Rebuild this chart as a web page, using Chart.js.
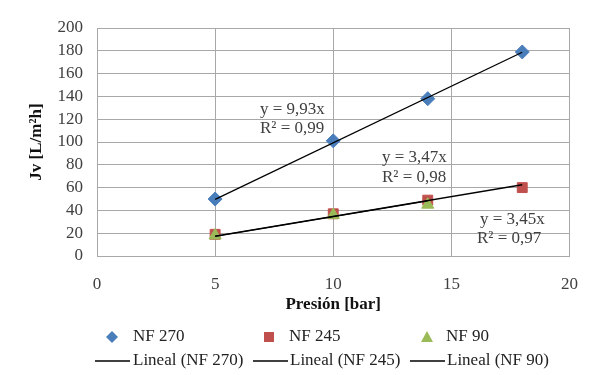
<!DOCTYPE html>
<html>
<head>
<meta charset="utf-8">
<script src="https://cdn.jsdelivr.net/npm/chart.js@4/dist/chart.umd.min.js"></script>
<style>
  html, body { margin: 0; padding: 0; background: #fff; }
  #wrap { width: 596px; height: 375px; }
</style>
</head>
<body>
<div id="wrap"><canvas id="fluxChart" width="596" height="375"></canvas></div>
<script>
// Pressure (bar) for each membrane and measured flux
const presNF270 = [5, 10, 14, 18];
const fluxNF270 = [50, 101, 138, 179];
const presNF245 = [5, 10, 14, 18];
const fluxNF245 = [19, 37, 49, 60];
const presNF90 = [5, 10, 14];
const fluxNF90 = [18, 36, 45];

// Linear trendlines (y = a*x), endpoints
const trendX270 = [5, 18];
const trendY270 = [49.65, 178.7];
const trendX245 = [5, 18];
const trendY245 = [17.35, 62.5];
const trendX90 = [5, 14];
const trendY90 = [17.25, 48.3];

const trendLabels = [
    ['y = 9,93x', 'R² = 0,99'],
    ['y = 3,47x', 'R² = 0,98'],
    ['y = 3,45x', 'R² = 0,97']
];

const toPoints = (xs, ys) => xs.map((x, i) => ({ x: x, y: ys[i] }));

const serif = "'Liberation Serif', 'Times New Roman', serif";
const gridColor = '#a8a8a8';
const textColor = '#404040';

// Draws the equation labels and the two-row legend under the chart
const extrasPlugin = {
    id: 'extras',
    afterDraw(chart) {
        const ctx = chart.ctx;
        ctx.save();
        ctx.font = '17px ' + serif;
        ctx.fillStyle = textColor;
        ctx.textBaseline = 'middle';
        ctx.textAlign = 'left';
        // equation labels
        const spots = [[260, 110, 260, 129], [382, 158, 382, 178], [480, 220, 477, 239]];
        trendLabels.forEach((t, i) => {
            const s = spots[i];
            ctx.fillText(t[0], s[0], s[1]);
            ctx.fillText(t[1], s[2], s[3]);
        });

        // legend
        ctx.fillStyle = '#222';
        const row1 = 337, row2 = 361;
        ctx.fillText('NF 270', 133, row1);
        ctx.fillText('NF 245', 289, row1);
        ctx.fillText('NF 90', 446, row1);
        ctx.fillText('Lineal (NF 270)', 133, row2);
        ctx.fillText('Lineal (NF 245)', 290, row2);
        ctx.fillText('Lineal (NF 90)', 447, row2);

        // diamond
        ctx.fillStyle = '#4a7ebb';
        ctx.beginPath();
        ctx.moveTo(112, row1 - 6);
        ctx.lineTo(118, row1);
        ctx.lineTo(112, row1 + 6);
        ctx.lineTo(106, row1);
        ctx.closePath();
        ctx.fill();
        // square
        ctx.fillStyle = '#c0504d';
        ctx.fillRect(264, row1 - 5, 10, 10);
        // triangle
        ctx.fillStyle = '#9bbb59';
        ctx.beginPath();
        ctx.moveTo(427, row1 - 6);
        ctx.lineTo(433, row1 + 5);
        ctx.lineTo(421, row1 + 5);
        ctx.closePath();
        ctx.fill();

        ctx.strokeStyle = '#000';
        ctx.lineWidth = 1.3;
        [[95, 130], [253, 288], [410, 445]].forEach(seg => {
            ctx.beginPath();
            ctx.moveTo(seg[0], row2);
            ctx.lineTo(seg[1], row2);
            ctx.stroke();
        });
        ctx.restore();
    }
};

const ctx = document.getElementById('fluxChart').getContext('2d');
const fluxChart = new Chart(ctx, {
    type: 'scatter',
    data: {
        datasets: [
            {
                label: 'Lineal (NF 270)',
                type: 'line',
                data: toPoints(trendX270, trendY270),
                borderColor: '#000',
                borderWidth: 1.3,
                pointRadius: 0,
                order: 0
            },
            {
                label: 'Lineal (NF 245)',
                type: 'line',
                data: toPoints(trendX245, trendY245),
                borderColor: '#000',
                borderWidth: 1.3,
                pointRadius: 0,
                order: 0
            },
            {
                label: 'Lineal (NF 90)',
                type: 'line',
                data: toPoints(trendX90, trendY90),
                borderColor: '#000',
                borderWidth: 1.3,
                pointRadius: 0,
                order: 0
            },
            {
                label: 'NF 90',
                data: toPoints(presNF90, fluxNF90),
                pointStyle: 'triangle',
                pointRadius: 7,
                backgroundColor: '#9bbb59',
                borderColor: '#9bbb59',
                order: 1
            },
            {
                label: 'NF 245',
                data: toPoints(presNF245, fluxNF245),
                pointStyle: 'rect',
                pointRadius: 7,
                backgroundColor: '#c0504d',
                borderColor: '#c0504d',
                order: 2
            },
            {
                label: 'NF 270',
                data: toPoints(presNF270, fluxNF270),
                pointStyle: 'rectRot',
                pointRadius: 7,
                backgroundColor: '#4a7ebb',
                borderColor: '#4a7ebb',
                order: 3
            }
        ]
    },
    options: {
        responsive: false,
        animation: false,
        layout: { padding: { left: 0, right: 25, top: 28, bottom: 59 } },
        scales: {
            x: {
                type: 'linear',
                min: 0,
                max: 20,
                ticks: {
                    stepSize: 5,
                    autoSkip: false,
                    padding: 18,
                    color: textColor,
                    font: { family: serif, size: 17 }
                },
                grid: { color: gridColor, drawTicks: false },
                border: { color: gridColor },
                title: {
                    display: true,
                    text: 'Presión [bar]',
                    color: '#111',
                    font: { family: serif, size: 17, weight: 'bold' },
                    padding: { top: 0, bottom: 1 }
                },
                afterFit: scale => { scale.height = 60; }
            },
            y: {
                min: 0,
                max: 200,
                ticks: {
                    stepSize: 20,
                    autoSkip: false,
                    padding: 14,
                    color: textColor,
                    font: { family: serif, size: 17 }
                },
                grid: { color: gridColor, drawTicks: false },
                border: { color: gridColor },
                title: {
                    display: true,
                    text: 'Jv [L/m²h]',
                    color: '#111',
                    font: { family: serif, size: 17, weight: 'bold' },
                    padding: { top: 26, bottom: 0 }
                },
                afterFit: scale => { scale.width = 97; }
            }
        },
        plugins: {
            legend: { display: false },
            tooltip: { enabled: false }
        }
    },
    plugins: [extrasPlugin]
});
</script>
</body>
</html>
